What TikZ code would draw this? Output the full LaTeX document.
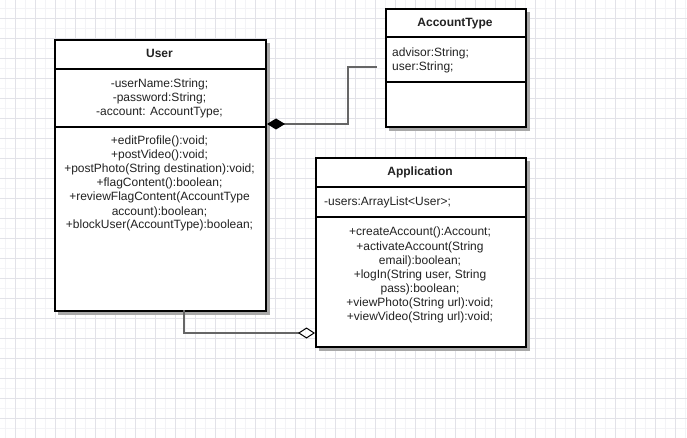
\documentclass[tikz,border=0pt]{standalone}
\usepackage{fontspec}
\setmainfont{Liberation Sans}
\usetikzlibrary{arrows.meta}
\definecolor{gridmajor}{HTML}{E2E2E8}
\definecolor{gridminor}{HTML}{F3F3F6}
\definecolor{shadowcol}{HTML}{A8A8A8}
\definecolor{conncol}{HTML}{666666}
\definecolor{txtcol}{HTML}{222222}
\begin{document}
\begin{tikzpicture}[x=1pt,y=-1pt,
  classbox/.style={draw=black, line width=2pt, fill=white, inner sep=0pt, anchor=north west},
  shadowfill/.style={fill=shadowcol, draw=none},
  sepline/.style={draw=black, line width=2pt},
  txt/.style={font=\fontsize{12}{14}\selectfont, text=txtcol, inner sep=0pt, anchor=base},
  ltxt/.style={font=\fontsize{12}{14}\selectfont, text=txtcol, inner sep=0pt, anchor=base west},
  htxt/.style={font=\fontsize{12}{14}\selectfont\bfseries, text=txtcol, inner sep=0pt, anchor=base},
  conn/.style={draw=conncol, line width=1.5pt}]
\useasboundingbox (0,0) rectangle (687,438);
\fill[white] (0,0) rectangle (687,438);
% grid
\foreach \gx in {5,25,...,685} \draw[gridminor, line width=0.6pt] (\gx,0) -- (\gx,438);
\foreach \gy in {8,28,...,438} \draw[gridminor, line width=0.6pt] (0,\gy) -- (687,\gy);
\foreach \gx in {15,35,...,675} \draw[gridmajor, line width=0.8pt] (\gx,0) -- (\gx,438);
\foreach \gy in {18,38,...,438} \draw[gridmajor, line width=0.8pt] (0,\gy) -- (687,\gy);

% shadows
\fill[shadowfill] (58,43) rectangle (270,315);
\fill[shadowfill] (389,12) rectangle (530,131);
\fill[shadowfill] (319,161) rectangle (530,351);

% boxes
\node[classbox, minimum width=211pt, minimum height=271pt] (user) at (54,39) {};
\node[classbox, minimum width=140pt, minimum height=118pt] (acct) at (385,8) {};
\node[classbox, minimum width=210pt, minimum height=189pt] (app) at (315,157) {};

% separators
\draw[sepline] (user.west |- 0,69) -- (user.east |- 0,69);
\draw[sepline] (user.west |- 0,127) -- (user.east |- 0,127);
\draw[sepline] (acct.west |- 0,37) -- (acct.east |- 0,37);
\draw[sepline] (acct.west |- 0,82) -- (acct.east |- 0,82);
\draw[sepline] (app.west |- 0,187) -- (app.east |- 0,187);
\draw[sepline] (app.west |- 0,217) -- (app.east |- 0,217);

% headers
\node[htxt] (userH) at (159.5,57.5) {User};
\node[htxt] (acctH) at (455,26.5) {AccountType};
\node[htxt] (appH) at (420,175.5) {Application};

% User attributes
\foreach \t [count=\i] in {-userName:String;,-password:String;,-account: AccountType;}
  \node[txt] (ua\i) at (159.5,88+14*\i-14) {\t};
% User methods
\foreach \t [count=\i] in {+editProfile():void;,+postVideo():void;,+postPhoto(String destination):void;,+flagContent():boolean;,+reviewFlagContent(AccountType,account):boolean;,+blockUser(AccountType):boolean;}
  \node[txt] (um\i) at (159.5,145+14*\i-14) {\t};

% AccountType attributes
\node[ltxt] (aa1) at (392,57) {advisor:String;};
\node[ltxt] (aa2) at (392,71) {user:String;};

% Application attribute
\node[ltxt] (pa1) at (324,206) {-users:ArrayList<User>;};
% Application methods
\foreach \t [count=\i] in {+createAccount():Account;,+activateAccount(String,email):boolean;,{+logIn(String user, String},pass):boolean;,+viewPhoto(String url):void;,+viewVideo(String url):void;}
  \node[txt] (pm\i) at (420,236+14*\i-14) {\t};

% connectors
\coordinate (compA) at (user.east |- 0,124);
\coordinate (compB) at (377,67);
\draw[conn, {Diamond[length=18pt,width=11pt,fill=black,color=black]}-] (compA) -- (348,124) |- (compB);

\coordinate (aggA) at (184,310);
\coordinate (aggB) at (app.west |- 0,333);
\draw[conn, -{Diamond[length=17pt,width=11pt,open,color=black,line width=1pt]}] (aggA) |- (aggB);
\end{tikzpicture}
\end{document}
